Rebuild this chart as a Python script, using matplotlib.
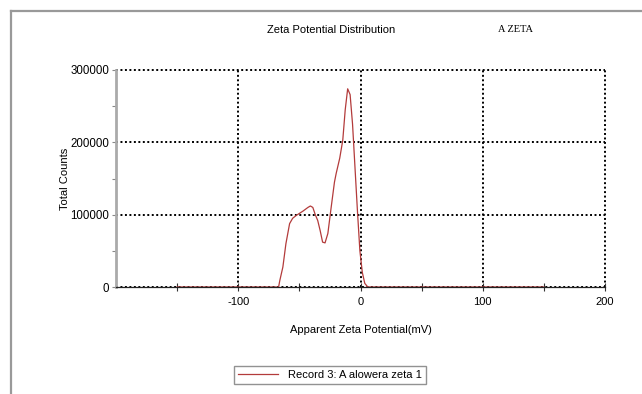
import matplotlib
matplotlib.use('Agg')
import matplotlib.pyplot as plt
from matplotlib.lines import Line2D

plt.rcParams['font.family'] = ['Liberation Sans', 'DejaVu Sans']
plt.rcParams['axes.unicode_minus'] = False

zeta = [-150, -67, -66, -63.5, -61, -58, -55.5, -52.5, -47, -43, -41, -39, -37, -35,
        -33, -31, -29, -26.7, -24, -21.3, -19.9, -17, -14.5, -12.5, -10.5, -8.5,
        -6.5, -4.5, -2.5, -0.5, 1.5, 3.5, 6, 150]
counts = [0, 0, 9000, 27600, 60000, 87600, 95000, 99000, 105000, 110000, 112000,
          110000, 100000, 92000, 78000, 62000, 61000, 74000, 110000, 145000, 157000,
          178000, 203000, 245000, 274000, 266000, 225000, 165000, 105000, 50000,
          20000, 5000, 0, 0]
xticks = [-100, 0, 100, 200]
xminor = [-150, -50, 50, 150]
yticks = [0, 100000, 200000, 300000]
yminor = [50000, 150000, 250000]

fig = plt.figure(figsize=(6.42, 3.94), dpi=100)
W, H = 642, 394
ax = fig.add_axes([116 / W, 1 - 287 / H, (605 - 116) / W, (287 - 70) / H])

ax.plot(zeta, counts, color='#b33b3b', lw=0.9, label='Record 3: A alowera zeta 1')

ax.set_xlim(-200, 200)
ax.set_ylim(0, 300000)
ax.set_xticks(xticks)
ax.set_xticks(xminor, minor=True)
ax.set_yticks(yticks)
ax.set_yticks(yminor, minor=True)
ax.set_yticklabels([str(v) for v in yticks])
ax.tick_params(axis='x', which='both', direction='inout', length=6, width=0.8,
               labelsize=8, pad=4, color='#333333')
ax.tick_params(axis='y', which='both', direction='out', length=3, width=0.8,
               labelsize=8.3, pad=2, color='#888888')

ax.grid(True, which='major', color='black', linestyle=(0, (1, 1.3)), lw=1.4)
for gl in ax.get_xgridlines() + ax.get_ygridlines():
    gl.set_clip_on(False)

ax.spines['top'].set_visible(False)
ax.spines['right'].set_visible(False)
ax.spines['left'].set_color('#aaaaaa')
ax.spines['left'].set_linewidth(2)
ax.spines['bottom'].set_color('#222222')
ax.spines['bottom'].set_linewidth(0.9)

ax.set_xlabel('Apparent Zeta Potential(mV)', fontsize=8)
ax.xaxis.set_label_coords(0.5, -0.175)
ax.set_ylabel('Total Counts', fontsize=8)
ax.yaxis.set_label_coords(-0.095, 0.5)

fig.text(331 / W, 1 - 30 / H, 'Zeta Potential Distribution', fontsize=8,
         ha='center', va='center')
fig.text(515 / W, 1 - 29 / H, 'A ZETA', fontsize=7.5, ha='center', va='center',
         family=['Liberation Serif', 'DejaVu Serif'])

leg = fig.legend(loc='center', bbox_to_anchor=(330 / W, 1 - 375 / H), fontsize=8,
                 frameon=True, fancybox=False, edgecolor='#777777',
                 handlelength=3.6, borderpad=0.35, borderaxespad=0,
                 handletextpad=0.9, handleheight=0.7)
leg.get_frame().set_linewidth(1.0)

# outer frame (top and left edges visible)
fig.add_artist(Line2D([11 / W, 1], [1 - 11 / H, 1 - 11 / H], transform=fig.transFigure,
                      color='#999999', lw=1.6))
fig.add_artist(Line2D([11 / W, 11 / W], [0, 1 - 11 / H], transform=fig.transFigure,
                      color='#999999', lw=1.6))

fig.savefig('out.png', dpi=100)
